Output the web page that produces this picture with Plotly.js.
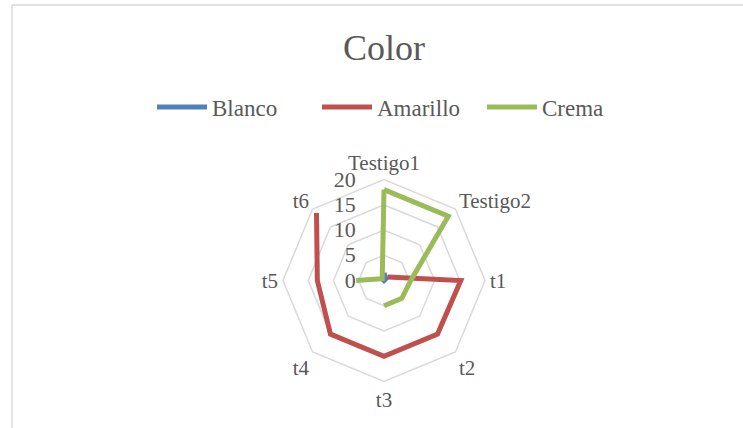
<!DOCTYPE html>
<html>
<head>
<meta charset="utf-8">
<script src="https://cdn.plot.ly/plotly-3.0.1.min.js"></script>
<style>html,body{margin:0;padding:0;background:#fff;}#chart{width:743px;height:428px;}</style>
</head>
<body>
<div id="chart"></div>
<script>
var categories = ['Testigo1', 'Testigo2', 't1', 't2', 't3', 't4', 't5', 't6'];
var blanco = [1.5, 0.5, 0, 0, 0, 0, 0, 0.5];
var amarillo = [null, 1, 15.2, 15, 15, 15, 13.2, 18.9];
var crema = [18, 18, 5.3, 5, 5, null, 5.5, 0.5];
var radialTicks = [0, 5, 10, 15, 20];

function closed(arr) { return arr.concat([arr[0]]); }

var names = ['Blanco', 'Amarillo', 'Crema'];
var colors = ['#4f81bd', '#c0504d', '#9bbb59'];
var series = [blanco, amarillo, crema];
var FONT = 'Liberation Serif';

var traces = series.map(function (vals, i) {
  return {
    type: 'scatterpolar',
    mode: 'lines',
    name: names[i],
    r: closed(vals),
    theta: closed(categories),
    connectgaps: false,
    line: { color: colors[i], width: 5 },
    hoverinfo: 'skip'
  };
});

var layout = {
  width: 743,
  height: 428,
  margin: { l: 0, r: 0, t: 0, b: 0 },
  paper_bgcolor: '#ffffff',
  font: { family: FONT, color: '#595959' },
  title: {
    text: 'Color',
    font: { size: 36, color: '#595959', family: FONT },
    x: 0.517, xref: 'paper', xanchor: 'center',
    y: 1 - 47 / 428, yref: 'container', yanchor: 'middle'
  },
  showlegend: true,
  legend: {
    orientation: 'h',
    x: 152 / 743, xanchor: 'left',
    y: 1 - 107 / 428, yanchor: 'middle',
    font: { size: 23, color: '#595959', family: FONT },
    itemwidth: 50,
    entrywidth: 100,
    entrywidthmode: 'pixels',
    bgcolor: 'rgba(0,0,0,0)'
  },
  polar: {
    domain: { x: [(384 - 101) / 743, (384 + 101) / 743], y: [(428 - 280.5 - 101) / 428, (428 - 280.5 + 101) / 428] },
    bgcolor: 'rgba(0,0,0,0)',
    gridshape: 'linear',
    radialaxis: {
      range: [0, 20],
      tickvals: radialTicks,
      ticktext: radialTicks.map(String),
      angle: 90,
      tickangle: 90,
      side: 'counterclockwise',
      showline: false,
      ticks: 'outside',
      ticklen: 20,
      tickcolor: 'rgba(0,0,0,0)',
      gridcolor: '#d9d9d9',
      gridwidth: 1.5,
      tickfont: { size: 22, color: '#595959', family: FONT }
    },
    angularaxis: {
      type: 'category',
      categoryorder: 'array',
      categoryarray: categories,
      rotation: 90,
      direction: 'clockwise',
      showgrid: false,
      showline: true,
      linecolor: '#d9d9d9',
      linewidth: 1.5,
      ticks: '',
      tickfont: { size: 21, color: '#595959', family: FONT }
    }
  },
  shapes: [{
    type: 'rect', xref: 'paper', yref: 'paper',
    x0: 12 / 743, x1: 1.02, y0: -0.02, y1: 1 - 5 / 428,
    line: { color: '#d9d9d9', width: 1.5 },
    fillcolor: 'rgba(0,0,0,0)'
  }]
};

Plotly.newPlot('chart', traces, layout, { displayModeBar: false, staticPlot: true });
</script>
</body>
</html>
